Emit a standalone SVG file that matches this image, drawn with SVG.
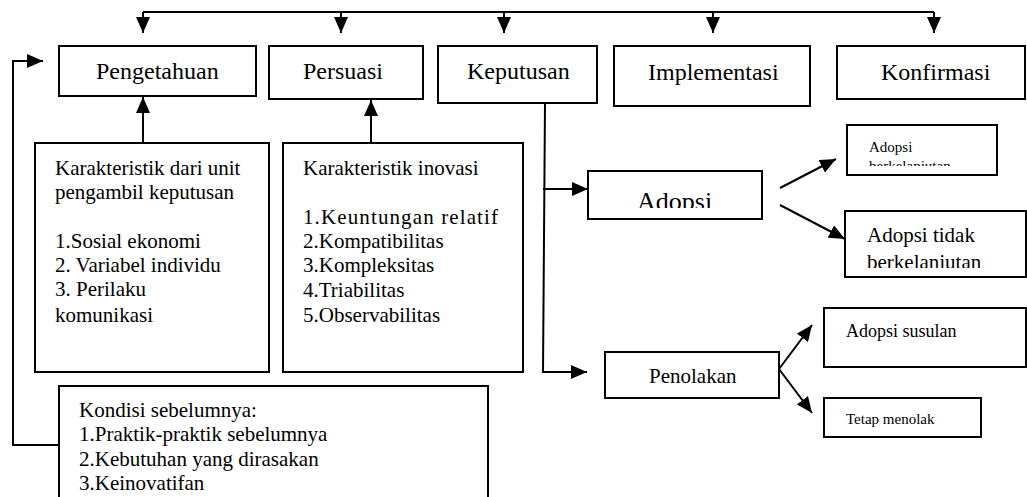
<svg xmlns="http://www.w3.org/2000/svg" width="1027" height="497" viewBox="0 0 1027 497">
<style>
.box{fill:#fff;stroke:#000;stroke-width:2}
.ln{fill:none;stroke:#000;stroke-width:2}
text{font-family:"Liberation Serif","Tinos","DejaVu Serif",serif;fill:#000}
</style>
<defs>
<marker id="ah" markerUnits="userSpaceOnUse" markerWidth="16" markerHeight="14" refX="16" refY="7" orient="auto">
<path d="M0,0 L16,7 L0,14 z" fill="#000"/>
</marker>
<clipPath id="c1"><rect x="840" y="120" width="180" height="46"/></clipPath>
<clipPath id="c2"><rect x="590" y="170" width="170" height="38"/></clipPath>
<clipPath id="c3"><rect x="846" y="212" width="180" height="56"/></clipPath>
</defs>
<rect width="1027" height="497" fill="#fff"/>
<g id="connectors">
<path class="ln" d="M143,12 L934,12"/>
<path class="ln" d="M143,12 L143,33" marker-end="url(#ah)"/>
<path class="ln" d="M341,12 L341,33" marker-end="url(#ah)"/>
<path class="ln" d="M504,12 L504,33" marker-end="url(#ah)"/>
<path class="ln" d="M713,12 L713,33" marker-end="url(#ah)"/>
<path class="ln" d="M934,12 L934,33" marker-end="url(#ah)"/>
<path class="ln" d="M143,143 L143,97" marker-end="url(#ah)"/>
<path class="ln" d="M371,143 L371,100" marker-end="url(#ah)"/>
<path class="ln" d="M59,445 L13,445 L13,61 L43,61" marker-end="url(#ah)"/>
<path class="ln" d="M545,103 L543,372 L587,372" marker-end="url(#ah)"/>
<path class="ln" d="M543,189 L588,189" marker-end="url(#ah)"/>
<path class="ln" d="M780,188 L836,159" marker-end="url(#ah)"/>
<path class="ln" d="M780,205 L845,239" marker-end="url(#ah)"/>
<path class="ln" d="M779,369 L812,325" marker-end="url(#ah)"/>
<path class="ln" d="M779,369 L812,413" marker-end="url(#ah)"/>
</g>
<g id="pengetahuan"><rect class="box" x="59" y="46" width="197" height="50"/><text font-size="24" x="96" y="79">Pengetahuan</text></g>
<g id="persuasi"><rect class="box" x="269" y="46" width="154" height="53"/><text font-size="24" x="303" y="79">Persuasi</text></g>
<g id="keputusan"><rect class="box" x="438" y="46" width="159" height="57"/><text font-size="24" x="467" y="79">Keputusan</text></g>
<g id="implementasi"><rect class="box" x="614" y="46" width="196" height="60"/><text font-size="24" x="648" y="80">Implementasi</text></g>
<g id="konfirmasi"><rect class="box" x="837" y="46" width="188" height="53"/><text font-size="24" x="881" y="80">Konfirmasi</text></g>
<g id="karakteristik-unit" font-size="21"><rect class="box" x="35" y="143" width="234" height="229"/>
<text x="55" y="175">Karakteristik dari unit</text>
<text x="55" y="199">pengambil keputusan</text>
<text x="55" y="248">1.Sosial ekonomi</text>
<text x="55" y="272">2. Variabel individu</text>
<text x="55" y="296">3. Perilaku</text>
<text x="55" y="322">komunikasi</text>
</g>
<g id="karakteristik-inovasi" font-size="21"><rect class="box" x="283" y="143" width="240" height="229"/>
<text x="303" y="175">Karakteristik inovasi</text>
<text x="303" y="224" textLength="195" lengthAdjust="spacing">1.Keuntungan relatif</text>
<text x="303" y="248">2.Kompatibilitas</text>
<text x="303" y="272">3.Kompleksitas</text>
<text x="303" y="297">4.Triabilitas</text>
<text x="303" y="322">5.Observabilitas</text>
</g>
<g id="kondisi" font-size="21"><rect class="box" x="59" y="386" width="429" height="120"/>
<text x="79" y="417">Kondisi sebelumnya:</text>
<text x="79" y="441">1.Praktik-praktik sebelumnya</text>
<text x="79" y="466">2.Kebutuhan yang dirasakan</text>
<text x="79" y="490">3.Keinovatifan</text>
</g>
<g id="adopsi"><rect class="box" x="588" y="171" width="174" height="48"/><text font-size="26" x="637" y="210" clip-path="url(#c2)">Adopsi</text></g>
<g id="adopsi-berkelanjutan"><rect class="box" x="847" y="125" width="150" height="50"/>
<g clip-path="url(#c1)" font-size="15"><text x="869" y="152">Adopsi</text><text x="869" y="171">berkelanjutan</text></g></g>
<g id="adopsi-tidak"><rect class="box" x="845" y="211" width="181" height="66"/>
<g clip-path="url(#c3)" font-size="21"><text x="867" y="242">Adopsi tidak</text><text x="867" y="269">berkelanjutan</text></g></g>
<g id="penolakan"><rect class="box" x="605" y="352" width="174" height="46"/><text font-size="21" x="649" y="383">Penolakan</text></g>
<g id="adopsi-susulan"><rect class="box" x="824" y="308" width="202" height="59"/><text font-size="18" x="846" y="337">Adopsi susulan</text></g>
<g id="tetap-menolak"><rect class="box" x="824" y="398" width="157" height="39"/><text font-size="15" x="846" y="424">Tetap menolak</text></g>
</svg>
